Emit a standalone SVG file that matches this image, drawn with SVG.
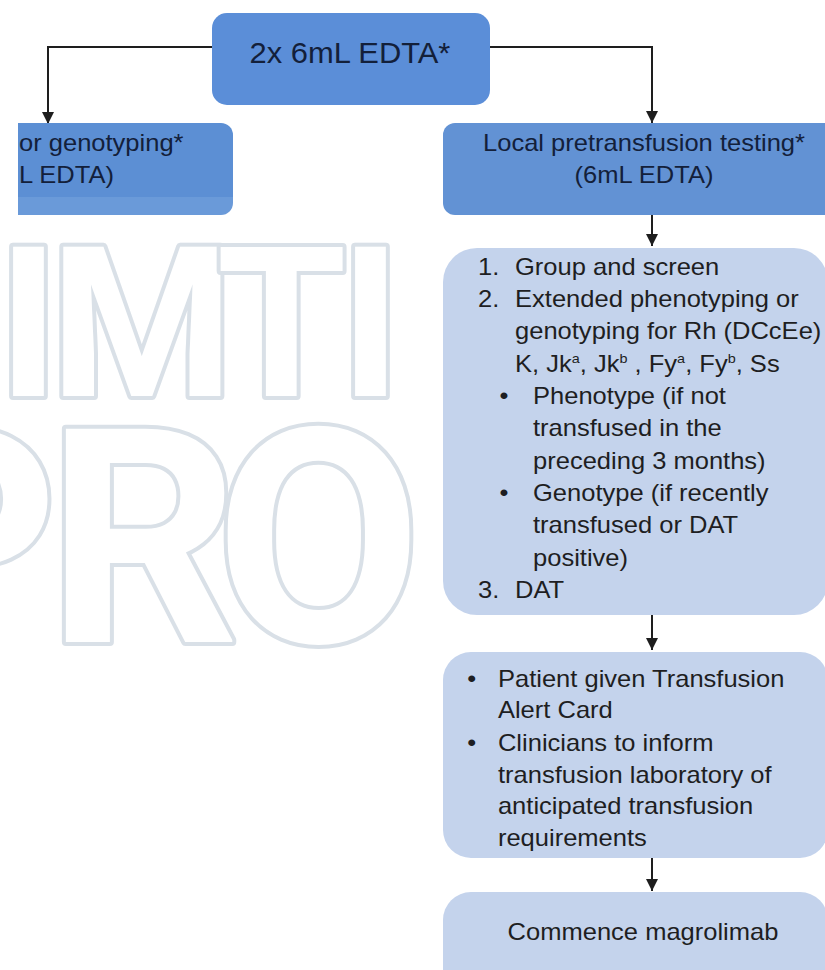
<svg xmlns="http://www.w3.org/2000/svg" width="825" height="970" viewBox="0 0 825 970">
<style>
.wm{font-family:Roboto,"Liberation Sans",sans-serif;font-weight:700;fill:#ffffff;stroke:#d9e0e7;stroke-width:8;paint-order:stroke;stroke-linejoin:round;}
.t{font-family:"Liberation Sans",Arial,Helvetica,sans-serif;font-size:23px;}
.dark{fill:#13203a;}
.lt{fill:#1e1e22;}
.blue1{fill:#5b8ed8;}
.blue2{fill:#6292d4;}
.light{fill:#c4d3ec;}
.conn{stroke:#1e1e1e;stroke-width:2;fill:none;}
</style>
<defs>
<marker id="ah" markerUnits="userSpaceOnUse" markerWidth="13" markerHeight="12" refX="12" refY="6" orient="auto">
<path d="M0,0 L12,6 L0,12 z" fill="#1e1e1e"/>
</marker>
<linearGradient id="lg" x1="0" y1="123" x2="0" y2="215" gradientUnits="userSpaceOnUse">
<stop offset="0" stop-color="#5c8fd4"/>
<stop offset="0.8" stop-color="#5c8fd4"/>
<stop offset="0.81" stop-color="#6a9ad9"/>
<stop offset="1" stop-color="#6a9ad9"/>
</linearGradient>
</defs>
<rect x="0" y="0" width="825" height="970" fill="#ffffff"/>

<g id="watermark">
<text class="wm" font-size="210" x="28.5 142 281.5 370.5" y="396" text-anchor="middle">IMTI</text>
<text class="wm" font-size="300" x="-38 143 318.5" y="642" text-anchor="middle">PRO</text>
</g>

<g id="connectors">
<polyline class="conn" points="212,47 48,47 48,124" marker-end="url(#ah)"/>
<polyline class="conn" points="490,47 652,47 652,123" marker-end="url(#ah)"/>
<line class="conn" x1="652" y1="215" x2="652" y2="246" marker-end="url(#ah)"/>
<line class="conn" x1="652" y1="615" x2="652" y2="650" marker-end="url(#ah)"/>
<line class="conn" x1="652" y1="858" x2="652" y2="891" marker-end="url(#ah)"/>
</g>

<g id="node-top">
<rect class="blue1" x="212" y="13" width="278" height="92" rx="15"/>
<text class="dark" x="339.8" y="63" text-anchor="middle" font-family="Liberation Sans, Arial, sans-serif" font-size="30" transform="scale(1.03 1)">2x 6mL EDTA*</text>
</g>

<g id="node-genotyping">
<path d="M18,123 H221 A12,12 0 0 1 233,135 V203 A12,12 0 0 1 221,215 H18 Z" fill="url(#lg)"/>
<g transform="scale(1.11 1)">
<text class="t dark" x="17.1" y="151">or genotyping*</text>
<text class="t dark" x="17.1" y="183">L EDTA)</text>
</g>
</g>

<g id="node-local">
<rect class="blue2" x="443" y="123" width="405" height="92" rx="12"/>
<g transform="scale(1.11 1)">
<text class="t dark" x="580.2" y="151" text-anchor="middle">Local pretransfusion testing*</text>
<text class="t dark" x="580.2" y="183" text-anchor="middle">(6mL EDTA)</text>
</g>
</g>

<g id="node-tests">
<rect class="light" x="443" y="248" width="385" height="367" rx="34"/>
<g transform="scale(1.11 1)">
<text class="t lt" x="430.6" y="275">1.</text>
<text class="t lt" x="464" y="275">Group and screen</text>
<text class="t lt" x="430.6" y="307">2.</text>
<text class="t lt" x="464" y="307">Extended phenotyping or</text>
<text class="t lt" x="464" y="339.5">genotyping for Rh (DCcEe)</text>
<text class="t lt" x="464" y="372">K, Jk<tspan font-size="13" dy="-9">a</tspan><tspan dy="9">, Jk</tspan><tspan font-size="13" dy="-9">b</tspan><tspan dy="9"> , Fy</tspan><tspan font-size="13" dy="-9">a</tspan><tspan dy="9">, Fy</tspan><tspan font-size="13" dy="-9">b</tspan><tspan dy="9">, Ss</tspan></text>
<text class="t lt" x="450" y="404.5">•</text>
<text class="t lt" x="480.2" y="404.5">Phenotype (if not</text>
<text class="t lt" x="480.2" y="436.5">transfused in the</text>
<text class="t lt" x="480.2" y="469">preceding 3 months)</text>
<text class="t lt" x="450" y="501.5">•</text>
<text class="t lt" x="480.2" y="501.5">Genotype (if recently</text>
<text class="t lt" x="480.2" y="533.5">transfused or DAT</text>
<text class="t lt" x="480.2" y="566">positive)</text>
<text class="t lt" x="430.6" y="598">3.</text>
<text class="t lt" x="464" y="598">DAT</text>
</g>
</g>

<g id="node-alert">
<rect class="light" x="443" y="652" width="385" height="206" rx="28"/>
<g transform="scale(1.11 1)">
<text class="t lt" x="421" y="687">•</text>
<text class="t lt" x="448.6" y="687">Patient given Transfusion</text>
<text class="t lt" x="448.6" y="718">Alert Card</text>
<text class="t lt" x="421" y="751">•</text>
<text class="t lt" x="448.6" y="751">Clinicians to inform</text>
<text class="t lt" x="448.6" y="783">transfusion laboratory of</text>
<text class="t lt" x="448.6" y="814">anticipated transfusion</text>
<text class="t lt" x="448.6" y="846">requirements</text>
</g>
</g>

<g id="node-commence">
<rect class="light" x="443" y="892" width="385" height="110" rx="28"/>
<g transform="scale(1.11 1)">
<text class="t lt" x="579.3" y="940" text-anchor="middle">Commence magrolimab</text>
</g>
</g>
</svg>
